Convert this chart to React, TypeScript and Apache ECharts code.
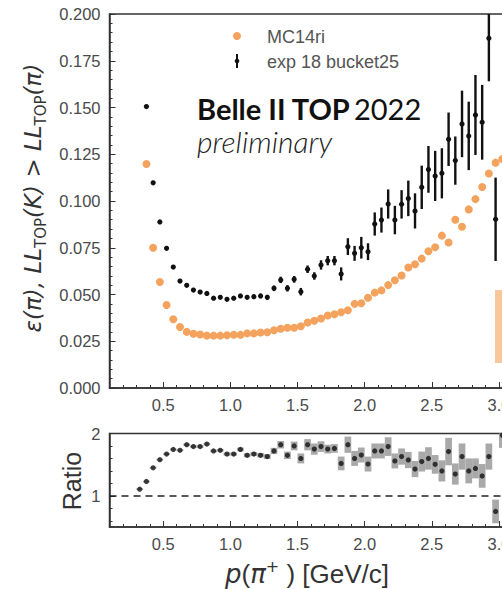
import React, { useEffect, useRef } from "react";
import * as echarts from "echarts";

// Bin centres of p(pi+) [GeV/c]
const momentum = [
  0.325, 0.375, 0.425, 0.475, 0.525, 0.575, 0.625, 0.675, 0.725, 0.775, 0.825, 0.875, 0.925, 0.975,
  1.025, 1.075, 1.125, 1.175, 1.225, 1.275, 1.325, 1.375, 1.425, 1.475,
  1.525, 1.575, 1.625, 1.675, 1.725, 1.775, 1.825, 1.875, 1.925, 1.975,
  2.025, 2.075, 2.125, 2.175, 2.225, 2.275, 2.325, 2.375, 2.425, 2.475,
  2.525, 2.575, 2.625, 2.675, 2.725, 2.775, 2.825, 2.875, 2.925, 2.975,
  3.025,
];

// MC14ri pion fake rate
const mcValues = [
  null, 0.1198, 0.075, 0.0567, 0.0444, 0.0368, 0.0326, 0.03, 0.029, 0.0286, 0.028, 0.028, 0.028, 0.0282,
  0.0285, 0.0284, 0.0292, 0.0292, 0.0297, 0.0298, 0.0309, 0.0317, 0.0322, 0.0322,
  0.033, 0.035, 0.036, 0.0372, 0.0388, 0.0394, 0.0405, 0.0416, 0.045, 0.0453,
  0.0483, 0.051, 0.0522, 0.055, 0.0576, 0.0602, 0.0644, 0.0662, 0.0692, 0.0731,
  0.0753, 0.0815, 0.0778, 0.09, 0.0862, 0.0955, 0.101, 0.1075, 0.1147, 0.1205,
  0.1225,
];

// exp 18 bucket25 pion fake rate and its uncertainty
const expValues = [
  null, 0.1505, 0.1097, 0.0888, 0.0747, 0.0647, 0.0572, 0.0549, 0.0524, 0.0513, 0.0506, 0.048, 0.0485, 0.0474,
  0.048, 0.0492, 0.0485, 0.0488, 0.0492, 0.0485, 0.0533, 0.0578, 0.0533, 0.0581,
  0.0515, 0.0635, 0.0599, 0.0658, 0.0681, 0.0681, 0.061, 0.0756, 0.072, 0.075,
  0.0729, 0.0877, 0.0898, 0.0984, 0.0898, 0.0982, 0.1014, 0.0947, 0.1073, 0.1169,
  0.1134, 0.1148, 0.133, 0.1216, 0.1412, 0.1348, 0.146, 0.1421, 0.187, 0.0902,
  null,
];
const expErrors = [
  null, 0.0008, 0.0008, 0.0008, 0.0008, 0.0008, 0.0008, 0.0008, 0.0008, 0.0008, 0.0008, 0.0009, 0.0009, 0.0009,
  0.001, 0.001, 0.001, 0.0012, 0.0012, 0.0013, 0.0015, 0.0017, 0.0017, 0.0018,
  0.002, 0.002, 0.002, 0.0025, 0.0025, 0.0025, 0.0035, 0.0045, 0.004, 0.0058,
  0.0045, 0.0062, 0.0067, 0.0078, 0.0076, 0.0076, 0.0095, 0.0094, 0.0116, 0.0125,
  0.0134, 0.0134, 0.0143, 0.0129, 0.0178, 0.0183, 0.0214, 0.02, 0.023, 0.0223,
  null,
];

// Ratio data / MC and its uncertainty
const ratioValues = [
  1.107, 1.23, 1.45, 1.58, 1.67, 1.745, 1.73, 1.82, 1.79, 1.79, 1.83, 1.72, 1.73, 1.67,
  1.67, 1.745, 1.65, 1.67, 1.65, 1.63, 1.72, 1.82, 1.65, 1.8,
  1.6, 1.82, 1.75, 1.79, 1.75, 1.76, 1.52, 1.82, 1.6, 1.655,
  1.51, 1.72, 1.72, 1.79, 1.56, 1.63, 1.575, 1.43, 1.55, 1.6,
  1.505, 1.4, 1.71, 1.35, 1.63, 1.4, 1.44, 1.32, 1.63, 0.75,
  1.97,
];
const ratioErrors = [
  0.015, 0.015, 0.015, 0.015, 0.015, 0.015, 0.015, 0.02, 0.02, 0.02, 0.02, 0.02, 0.02, 0.025,
  0.025, 0.03, 0.03, 0.03, 0.035, 0.04, 0.05, 0.06, 0.06, 0.07,
  0.08, 0.09, 0.09, 0.085, 0.07, 0.07, 0.11, 0.13, 0.12, 0.12,
  0.12, 0.12, 0.12, 0.15, 0.12, 0.13, 0.13, 0.13, 0.16, 0.18,
  0.15, 0.17, 0.22, 0.17, 0.21, 0.2, 0.16, 0.19, 0.21, 0.19,
  0.2,
];
const binHalfWidth = 0.025;

const xMajorTicks = [0.5, 1.0, 1.5, 2.0, 2.5, 3.0, 3.5];
const xMinorTicks = [
  0.1, 0.2, 0.3, 0.4, 0.5, 0.6, 0.7, 0.8, 0.9, 1.0, 1.1, 1.2, 1.3, 1.4, 1.5, 1.6, 1.7, 1.8,
  1.9, 2.0, 2.1, 2.2, 2.3, 2.4, 2.5, 2.6, 2.7, 2.8, 2.9, 3.0, 3.1, 3.2, 3.3, 3.4, 3.5,
];
const ratioMajorTicks = [1, 2];
const ratioMinorTicks = [0.6, 0.8, 1.2, 1.4, 1.6, 1.8];

const AXIS = "#333";
const TICKTXT = "#4a4a4a";
const ORANGE = "#f4a35e";
const SANS = "Liberation Sans";

export default function App() {
  const ref = useRef<HTMLDivElement>(null);
  useEffect(() => {
    if (!ref.current) return;
    const chart = echarts.init(ref.current, undefined, { renderer: "svg" });

    const mcData = momentum
      .map((p, i) => (mcValues[i] == null ? null : [p, mcValues[i]]))
      .filter((d) => d !== null);
    const expData = momentum
      .map((p, i) => (expValues[i] == null ? null : [p, expValues[i], expErrors[i]]))
      .filter((d) => d !== null);
    const ratioData = momentum.map((p, i) => [p, ratioValues[i], ratioErrors[i]]);

    const left = 109.5;
    const width = 456.6;
    const tickLabel = { fontFamily: SANS, fontSize: 16.5, color: TICKTXT };

    const mkX = (gridIndex: number, margin: number) => [
      {
        gridIndex, type: "value", min: 0.1, max: 3.5, position: "bottom",
        axisLine: { show: true, lineStyle: { color: AXIS, width: 1.5 } },
        axisTick: { show: true, inside: true, length: 6, customValues: xMajorTicks, lineStyle: { color: AXIS, width: 1 } },
        axisLabel: { ...tickLabel, margin, customValues: xMajorTicks, formatter: (v: number) => v.toFixed(1) },
        splitLine: { show: false },
      },
      {
        gridIndex, type: "value", min: 0.1, max: 3.5, position: "bottom",
        axisLine: { show: false },
        axisTick: { show: true, inside: true, length: 3, customValues: xMinorTicks, lineStyle: { color: AXIS, width: 1 } },
        axisLabel: { show: false },
        splitLine: { show: false },
      },
    ];

    const option: any = {
      animation: false,
      grid: [
        { left, top: 14, width, height: 374, show: true, borderColor: AXIS, borderWidth: 1.5, backgroundColor: "transparent" },
        { left, top: 433.5, width, height: 93.5, show: true, borderColor: AXIS, borderWidth: 1.5, backgroundColor: "transparent" },
      ],
      xAxis: [...mkX(0, 8), ...mkX(1, 8)],
      yAxis: [
        {
          gridIndex: 0, type: "value", min: 0, max: 0.2, interval: 0.025, position: "left",
          axisLine: { show: true, lineStyle: { color: AXIS, width: 1.5 } },
          axisTick: { show: true, inside: true, length: 6, lineStyle: { color: AXIS } },
          minorTick: { show: true, splitNumber: 5, length: 3, lineStyle: { color: AXIS } },
          axisLabel: { ...tickLabel, margin: 9, formatter: (v: number) => v.toFixed(3) },
          splitLine: { show: false },
        },
        {
          gridIndex: 1, type: "value", min: 0.5, max: 2.0, position: "left",
          axisLine: { show: true, lineStyle: { color: AXIS, width: 1.5 } },
          axisTick: { show: true, inside: true, length: 6, customValues: ratioMajorTicks, lineStyle: { color: AXIS } },
          axisLabel: { ...tickLabel, margin: 9, customValues: ratioMajorTicks, formatter: (v: number) => String(v) },
          splitLine: { show: false },
        },
        {
          gridIndex: 1, type: "value", min: 0.5, max: 2.0, position: "left",
          axisLine: { show: false },
          axisTick: { show: true, inside: true, length: 3, customValues: ratioMinorTicks, lineStyle: { color: AXIS } },
          axisLabel: { show: false },
          splitLine: { show: false },
        },
      ],
      series: [
        {
          type: "scatter", name: "MC14ri", xAxisIndex: 0, yAxisIndex: 0, data: mcData,
          symbol: "circle", symbolSize: 8, itemStyle: { color: ORANGE, opacity: 1 }, z: 2, clip: true,
        },
        {
          type: "custom", name: "exp 18 bucket25", xAxisIndex: 0, yAxisIndex: 0, data: expData,
          dimensions: ["p", "eff", "err"], encode: { x: 0, y: 1 }, z: 3, clip: true,
          renderItem: (params: any, api: any) => {
            const x = api.value(0), v = api.value(1), e = api.value(2);
            const c = api.coord([x, v]);
            const t = api.coord([x, v + e]);
            const b = api.coord([x, v - e]);
            const cs = params.coordSys;
            const y1 = Math.max(t[1], cs.y);
            const y2 = Math.min(b[1], cs.y + cs.height);
            return {
              type: "group",
              children: [
                { type: "line", shape: { x1: c[0], y1, x2: c[0], y2 }, style: { stroke: "#111", lineWidth: 2.4 } },
                { type: "circle", shape: { cx: c[0], cy: c[1], r: 2.6 }, style: { fill: "#111" } },
              ],
            };
          },
        },
        {
          type: "custom", xAxisIndex: 2, yAxisIndex: 1, data: ratioData,
          dimensions: ["p", "ratio", "err"], encode: { x: 0, y: 1 }, z: 2,
          renderItem: (params: any, api: any) => {
            const x = api.value(0), r = api.value(1), e = api.value(2);
            const p1 = api.coord([x - binHalfWidth, r + e]);
            const p2 = api.coord([x + binHalfWidth, r - e]);
            const cs = params.coordSys;
            const y1 = Math.max(p1[1], cs.y);
            const y2 = Math.min(p2[1], cs.y + cs.height);
            return {
              type: "rect",
              shape: { x: p1[0], y: y1, width: p2[0] - p1[0], height: y2 - y1 },
              style: { fill: "#a9a9a9" },
            };
          },
        },
        {
          type: "scatter", xAxisIndex: 2, yAxisIndex: 1,
          data: ratioData.map((d) => [d[0], d[1]]),
          symbol: "circle", symbolSize: 5.2, itemStyle: { color: "#111" }, z: 4,
          markLine: {
            silent: true, symbol: "none", label: { show: false },
            lineStyle: { color: "#222", width: 1.5, type: [7, 5] },
            data: [{ yAxis: 1 }],
          },
        },
      ],
      graphic: [
        // legend
        { type: "circle", shape: { cx: 237, cy: 36, r: 4 }, style: { fill: ORANGE } },
        { type: "text", x: 267, y: 37, style: { text: "MC14ri", font: `18px "${SANS}"`, fill: "#555", verticalAlign: "middle" } },
        { type: "line", shape: { x1: 237, y1: 54, x2: 237, y2: 68 }, style: { stroke: "#111", lineWidth: 2 } },
        { type: "circle", shape: { cx: 237, cy: 61, r: 2.3 }, style: { fill: "#111" } },
        { type: "text", x: 267, y: 62, style: { text: "exp 18 bucket25", font: `18px "${SANS}"`, fill: "#555", verticalAlign: "middle" } },
        // Belle II label
        {
          type: "text", x: 197, y: 108,
          style: {
            text: "{b|Belle II TOP} {r|2022}", verticalAlign: "middle", fill: "#111",
            rich: {
              b: { fontFamily: "Lato", fontWeight: "bold", fontSize: 29, fill: "#111" },
              r: { fontFamily: "Lato", fontWeight: "normal", fontSize: 29, fill: "#111" },
            },
          },
        },
        {
          type: "text", x: 197, y: 141,
          style: { text: "preliminary", fontFamily: "Lato", fontStyle: "italic", fontWeight: 300, fontSize: 30, fill: "#222", verticalAlign: "middle" },
        },
        // y title
        {
          type: "text", x: 33, y: 198, rotation: Math.PI / 2,
          style: {
            text: "{i|ε(π), LL}{s|TOP}{i|(K) > LL}{s|TOP}{i|(π)}",
            align: "center", verticalAlign: "middle", fill: "#333",
            rich: {
              i: { fontFamily: "DejaVu Sans", fontStyle: "italic", fontSize: 23, fill: "#333", lineHeight: 30, verticalAlign: "middle" },
              s: { fontFamily: "DejaVu Sans", fontStyle: "normal", fontSize: 15, fill: "#333", lineHeight: 30, verticalAlign: "bottom" },
            },
          },
        },
        // ratio title
        {
          type: "text", x: 72, y: 481, rotation: Math.PI / 2,
          style: { text: "Ratio", font: `25px "${SANS}"`, fill: "#333", align: "center", verticalAlign: "middle" },
        },
        // x title
        {
          type: "text", x: 307, y: 574,
          style: {
            text: "{i|p}{n|(}{i|π}{u|+}{n| ) [GeV/c]}",
            align: "center", verticalAlign: "middle", fill: "#333",
            rich: {
              i: { fontFamily: "DejaVu Sans", fontStyle: "italic", fontSize: 26, fill: "#333", lineHeight: 32, verticalAlign: "middle" },
              n: { fontFamily: SANS, fontSize: 26, fill: "#333", lineHeight: 32, verticalAlign: "middle" },
              u: { fontFamily: "DejaVu Sans", fontSize: 16, fill: "#333", lineHeight: 32, verticalAlign: "top" },
            },
          },
        },
        // slide decoration at right edge
        { type: "rect", shape: { x: 495, y: 290, width: 12, height: 73 }, style: { fill: "#f8c89c" } },
      ],
    };
    chart.setOption(option);
    return () => chart.dispose();
  }, []);

  return (
    <div style={{ position: "absolute", left: 0, top: 0, width: 502, height: 589, overflow: "hidden", background: "#fff" }}>
      <div ref={ref} style={{ width: 620, height: 589 }} />
    </div>
  );
}
